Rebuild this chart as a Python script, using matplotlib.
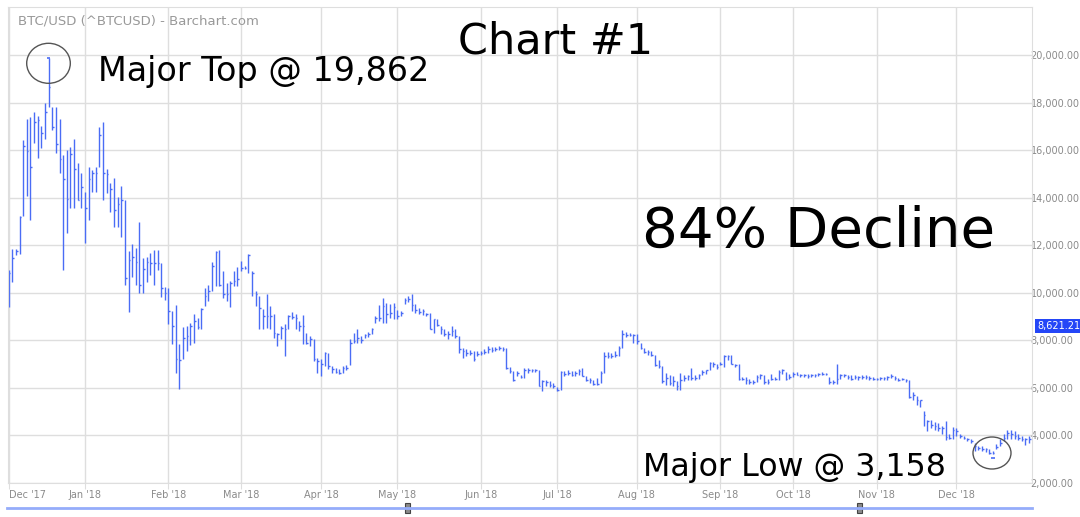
import matplotlib
matplotlib.use("Agg")
import matplotlib.pyplot as plt
from matplotlib.patches import Ellipse, Rectangle
import numpy as np

# daily bars (weekdays only), Dec 1 2017 .. Dec 31 2018
high = [
    # Dec '17
    10950, 11830, 11830, 13250, 16430, 17300, 17410, 17620, 17450, 17020, 17970,
    19862, 17830, 17830, 17310, 15800, 16010, 16120, 16470, 15450, 15030,
    # Jan '18
    14250, 15310, 15170, 15310, 16960, 17200, 15190, 14600, 14820, 14040, 14490,
    13900, 11770, 12050, 11890, 12990, 11450, 11520, 11660, 11800, 11800, 11240, 10260,
    # Feb
    10210, 9230, 9470, 7830, 8570, 8600, 8740, 9090, 8950, 9370, 10210, 10310,
    11290, 11750, 11790, 10910, 10420, 10490, 10910, 11090,
    # Mar
    11330, 11120, 11650, 10910, 10070, 9860, 9300, 9930, 9440, 9090, 8320, 8600,
    8670, 9050, 9190, 9090, 8810, 9050, 8320, 8180, 8040, 7270,
    # Apr
    7200, 7510, 7480, 6920, 6850, 6780, 6920, 6950, 8070, 8320, 8460, 8200, 8250,
    8350, 8530, 9020, 9470, 9790, 9550, 9510, 9550,
    # May
    9270, 9230, 9790, 9860, 9970, 9510, 9370, 9330, 9160, 9160, 8910, 8880, 8600,
    8460, 8390, 8600, 8460, 8180, 7690, 7620, 7600, 7550, 7550,
    # Jun
    7550, 7620, 7760, 7700, 7720, 7760, 7730, 7690, 6890, 6700, 6700, 6560, 6840,
    6840, 6800, 6800, 6770, 6320, 6320, 6280, 6210,
    # Jul
    6040, 6700, 6700, 6740, 6700, 6700, 6800, 6840, 6490, 6420, 6350, 6420, 6700,
    7500, 7500, 7470, 7540, 7750, 8450, 8340, 8310, 8280,
    # Aug
    8280, 7890, 7680, 7610, 7540, 7400, 7190, 6910, 6630, 6560, 6490, 6280, 6630,
    6560, 6560, 6840, 6560, 6600, 6740, 6770, 7090, 7090, 7020,
    # Sep
    7090, 7370, 7370, 7370, 7020, 7020, 6460, 6460, 6390, 6320, 6530, 6600, 6530,
    6390, 6600, 6460, 6770, 6810, 6670, 6600,
    # Oct
    6670, 6670, 6600, 6600, 6570, 6600, 6600, 6630, 6670, 6630, 6460, 6320, 7020,
    6600, 6600, 6530, 6530, 6530, 6490, 6530, 6530, 6490, 6460,
    # Nov
    6430, 6470, 6470, 6520, 6570, 6490, 6430, 6430, 6390, 6340, 5820, 5680, 5500,
    5010, 4650, 4650, 4580, 4520, 4390, 4620, 4050, 4360,
    # Dec '18
    4320, 4040, 3970, 3900, 3830, 3700, 3560, 3560, 3490, 3420, 3350, 3630, 3840,
    4040, 4250, 4250, 4180, 4040, 3970, 3900, 3970,
]
low = [
    9420, 10470, 11600, 11650, 13250, 14050, 13060, 16290, 15650, 16080, 16460,
    17830, 16850, 15870, 15030, 10960, 12500, 13570, 13550, 13900, 13550,
    12080, 13060, 14250, 14250, 15310, 13900, 14180, 13410, 12780, 12750, 12360,
    10330, 9210, 10680, 10330, 9980, 9980, 10470, 10750, 10330, 10960, 9840, 9700,
    8670, 7830, 6640, 5970, 7230, 7550, 7790, 7900, 8460, 8460, 9440, 9650,
    10070, 10280, 10280, 9790, 9650, 9410, 10280, 10280,
    10910, 10980, 10840, 9860, 9440, 8460, 8460, 8530, 8460, 8110, 7760, 8040,
    7340, 8460, 8880, 8460, 8390, 7830, 7830, 7760, 7130, 6610,
    6500, 6920, 6780, 6640, 6610, 6570, 6640, 6750, 6950, 7900, 7900, 7900, 8110,
    8150, 8250, 8740, 8810, 8740, 8740, 8950, 8880,
    8910, 9020, 9510, 9610, 9230, 9160, 9090, 9050, 9020, 8460, 8290, 8600, 8250,
    8180, 8040, 8180, 8110, 7480, 7270, 7340, 7380, 7130, 7340,
    7380, 7410, 7480, 7510, 7550, 7590, 7550, 6780, 6640, 6280, 6490, 6420, 6420,
    6630, 6660, 6660, 6070, 5860, 6100, 6040, 6000,
    5890, 5930, 6520, 6560, 6490, 6520, 6560, 6490, 6280, 6210, 6140, 6140, 6210,
    6630, 7260, 7260, 7300, 7330, 7680, 8140, 8170, 7890,
    7860, 7640, 7470, 7400, 7330, 6910, 6840, 6210, 6140, 6140, 6070, 5930, 5930,
    6280, 6350, 6350, 6350, 6390, 6530, 6600, 6740, 6880, 6810,
    6950, 6880, 7160, 7020, 6880, 6320, 6320, 6180, 6180, 6180, 6250, 6390, 6180,
    6180, 6320, 6320, 6320, 6600, 6320, 6390,
    6460, 6530, 6460, 6460, 6430, 6460, 6460, 6490, 6530, 6530, 6180, 6180, 6180,
    6390, 6460, 6390, 6350, 6390, 6350, 6390, 6390, 6350, 6320,
    6320, 6350, 6350, 6350, 6430, 6350, 6290, 6320, 6250, 5560, 5500, 5270, 5200,
    4390, 4180, 4320, 4250, 4180, 4050, 3790, 3830, 3830,
    3970, 3900, 3830, 3760, 3700, 3350, 3390, 3350, 3310, 3210, 3210, 3420, 3560,
    3760, 3830, 3830, 3830, 3800, 3760, 3590, 3700,
]
close = [
    10850, 11450, 11750, 13200, 16180, 15950, 15280, 17200, 17270, 16700, 17620,
    18670, 16960, 16260, 15610, 14800, 13930, 15850, 15190, 13900, 14470,
    13550, 14770, 15030, 15050, 16640, 15050, 15010, 14350, 13480, 13750, 13900,
    10610, 11380, 11520, 11310, 10330, 10990, 11310, 11270, 11270, 11240, 10190, 10010,
    9230, 8600, 7200, 7170, 8110, 8180, 8600, 8810, 8570, 9300, 9860, 10070,
    11120, 11720, 10310, 9930, 9930, 10420, 10490, 10560,
    11050, 11050, 11610, 10840, 9930, 9370, 9020, 9020, 9020, 8320, 8250, 8530,
    8460, 9020, 8990, 8950, 8600, 8600, 7900, 8040, 7200, 7130,
    6990, 7450, 6920, 6810, 6670, 6640, 6850, 6850, 7900, 7970, 8110, 8000, 8210,
    8250, 8460, 8950, 8950, 9440, 9090, 9160, 9410,
    9020, 9160, 9690, 9720, 9470, 9270, 9190, 9230, 9090, 8460, 8880, 8630, 8460,
    8250, 8250, 8390, 8180, 7620, 7550, 7480, 7480, 7200, 7410,
    7480, 7500, 7620, 7600, 7650, 7690, 7620, 6850, 6710, 6350, 6630, 6450, 6770,
    6770, 6740, 6740, 6100, 6280, 6240, 6140, 6070,
    5930, 6650, 6580, 6630, 6560, 6630, 6700, 6490, 6350, 6320, 6180, 6180, 6630,
    7330, 7360, 7330, 7400, 7680, 8280, 8240, 8240, 8240,
    7960, 7680, 7500, 7500, 7400, 6980, 6910, 6280, 6420, 6210, 6280, 6100, 6350,
    6420, 6490, 6420, 6420, 6530, 6670, 6740, 7050, 7020, 6880,
    7020, 7330, 7330, 7020, 6950, 6390, 6390, 6320, 6250, 6250, 6460, 6530, 6250,
    6250, 6390, 6390, 6670, 6740, 6390, 6460,
    6600, 6560, 6530, 6530, 6490, 6530, 6530, 6600, 6600, 6580, 6250, 6250, 6390,
    6530, 6530, 6460, 6390, 6460, 6460, 6460, 6460, 6420, 6390,
    6390, 6430, 6430, 6460, 6520, 6430, 6350, 6390, 6350, 5630, 5700, 5500, 5470,
    4870, 4600, 4460, 4390, 4320, 4320, 3940, 3900, 4250,
    4180, 3970, 3900, 3830, 3760, 3560, 3490, 3450, 3420, 3280, 3280, 3530, 3700,
    3900, 4110, 4040, 3970, 3900, 3860, 3830, 3830,
]

# first bar of each month (bar index) and its label
month_idx = [0, 21, 44, 64, 86, 107, 130, 151, 173, 196, 216, 239, 261]
month_lbl = ["Dec '17", "Jan '18", "Feb '18", "Mar '18", "Apr '18", "May '18",
             "Jun '18", "Jul '18", "Aug '18", "Sep '18", "Oct '18", "Nov '18", "Dec '18"]
yticks = list(range(2000, 20001, 2000))

top_idx, top_val = 11, 19862
low_idx, low_val = 271, 3040
last_price = "8,621.21"

BAR = "#4a6cf5"
GRID = "#dedede"
TXT = "#8a8a8a"

W, H = 1080, 517
fig = plt.figure(figsize=(W / 100, H / 100), dpi=100)
ax = fig.add_axes([7.6 / W, 1 - 483 / H, (1032 - 7.6) / W, (483 - 7) / H])

x = np.arange(len(close))
ax.vlines(x, low, high, color=BAR, lw=1)
ax.hlines(close, x, x + 0.45, color=BAR, lw=1)
# extreme markers
ax.hlines([top_val, low_val], [top_idx - 0.5, low_idx - 0.5], [top_idx + 0.5, low_idx + 0.5],
          color=BAR, lw=1.2)

ax.set_xlim(-0.3, 281.8)
ax.set_ylim(2000, 22020)
ax.set_yticks(yticks)
ax.set_yticklabels([f"{v:,.2f}" for v in yticks])
ax.yaxis.tick_right()
ax.tick_params(axis="y", length=0, pad=-1, labelsize=7, labelcolor=TXT)
ax.set_xticks(month_idx)
ax.set_xticklabels(month_lbl)
ax.get_xticklabels()[0].set_horizontalalignment("left")
ax.tick_params(axis="x", length=4, color=GRID, pad=1, labelsize=7, labelcolor=TXT)
ax.grid(color=GRID, lw=1)
ax.set_axisbelow(True)
for s in ax.spines.values():
    s.set_color(GRID)

def fx(px):
    return px / W

def fy(py):
    return 1 - py / H

fig.text(fx(18), fy(21), "BTC/USD (^BTCUSD) - Barchart.com", color="#999999",
         fontsize=9.5, va="center")
fig.text(fx(556), fy(53), "Chart #1", fontsize=31, ha="center", va="baseline")
fig.text(fx(98), fy(81), "Major Top @ 19,862", fontsize=24, va="baseline")
fig.text(fx(642), fy(247), "84% Decline", fontsize=40.5, va="baseline")
fig.text(fx(643), fy(476), "Major Low @ 3,158", fontsize=22.8, va="baseline")

# circles around the top and the low
for cx, cy, w, h in [(48.5, 63.3, 43.6, 40), (992, 453, 38, 32)]:
    fig.patches.append(Ellipse((fx(cx), fy(cy)), w / W, h / H, fill=False,
                               ec="#555555", lw=1, transform=fig.transFigure))

# last price tag
fig.text(fx(1037), fy(326), last_price, fontsize=7, color="white", va="center",
         bbox=dict(boxstyle="square,pad=0.2", fc="#2446f7", ec="none"))

# scroll bar at the bottom
fig.lines.append(plt.Line2D([fx(7), fx(1032)], [fy(508), fy(508)], color="#95acfa",
                            lw=2, transform=fig.transFigure))
for hx in (405, 857):
    fig.patches.append(Rectangle((fx(hx), fy(513)), 5 / W, 10 / H, fc="#8a8a8a",
                                 ec="#444444", lw=0.8, transform=fig.transFigure))

fig.savefig("out.png", dpi=100)
